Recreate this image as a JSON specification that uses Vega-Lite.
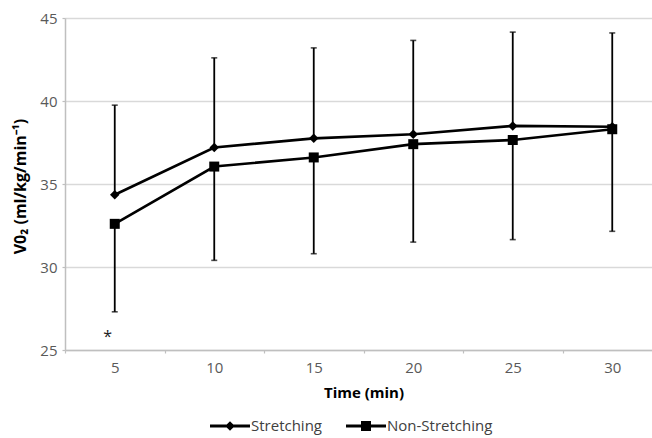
{
  "$schema": "https://vega.github.io/schema/vega-lite/v6.json",
  "width": 597,
  "height": 332,
  "autosize": "none",
  "padding": {"left": 65, "top": 18, "right": 0, "bottom": 88},
  "background": "white",
  "config": {
    "view": {"stroke": null},
    "font": "Open Sans",
    "axis": {
      "labelFont": "Open Sans",
      "labelFontSize": 15,
      "labelColor": "#595959",
      "titleFont": "Open Sans",
      "titleFontSize": 15,
      "titleFontWeight": "bold",
      "titleColor": "#000000",
      "domainColor": "#bfbfbf",
      "domainWidth": 1.5,
      "tickColor": "#bfbfbf",
      "tickWidth": 1.2,
      "tickSize": 3,
      "gridColor": "#d9d9d9",
      "gridWidth": 1.4
    },
    "legend": {"labelFont": "Open Sans", "labelFontSize": 15, "labelColor": "#404040"}
  },
  "datasets": {
    "vo2": [
      {"time": 5, "series": "Stretching", "mean": 34.35, "end": 39.75},
      {"time": 10, "series": "Stretching", "mean": 37.2, "end": 42.6},
      {"time": 15, "series": "Stretching", "mean": 37.75, "end": 43.2},
      {"time": 20, "series": "Stretching", "mean": 38.0, "end": 43.65},
      {"time": 25, "series": "Stretching", "mean": 38.5, "end": 44.15},
      {"time": 30, "series": "Stretching", "mean": 38.45, "end": 44.1},
      {"time": 5, "series": "Non-Stretching", "mean": 32.6, "end": 27.3},
      {"time": 10, "series": "Non-Stretching", "mean": 36.05, "end": 30.4},
      {"time": 15, "series": "Non-Stretching", "mean": 36.6, "end": 30.8},
      {"time": 20, "series": "Non-Stretching", "mean": 37.4, "end": 31.5},
      {"time": 25, "series": "Non-Stretching", "mean": 37.65, "end": 31.65},
      {"time": 30, "series": "Non-Stretching", "mean": 38.3, "end": 32.15}
    ],
    "marks": [
      {"time": 5, "value": 26.0, "label": "*"}
    ]
  },
  "encoding": {
    "x": {
      "field": "time",
      "type": "ordinal",
      "scale": {"type": "band", "paddingInner": 0, "paddingOuter": 0, "domain": [5, 10, 15, 20, 25, 30]},
      "axis": {
        "title": "Time (min)",
        "labelAngle": 0,
        "tickBand": "extent",
        "grid": false,
        "labelPadding": 7,
        "titlePadding": 10
      }
    }
  },
  "layer": [
    {
      "data": {"name": "vo2"},
      "mark": {"type": "rule", "color": "black", "strokeWidth": 1.8},
      "encoding": {
        "y": {
          "field": "mean",
          "type": "quantitative",
          "scale": {"domain": [25, 45], "nice": false, "zero": false},
          "axis": {
            "values": [25, 30, 35, 40, 45],
            "title": "V0₂ (ml/kg/min⁻¹)",
            "titleFontSize": 16,
            "grid": true,
            "labelPadding": 5,
            "titleX": -45,
            "titleY": 168,
            "titleAngle": -90,
            "titleAlign": "center",
            "titleBaseline": "middle"
          }
        },
        "y2": {"field": "end"}
      }
    },
    {
      "data": {"name": "vo2"},
      "mark": {"type": "tick", "color": "black", "size": 6, "thickness": 1.6, "orient": "horizontal"},
      "encoding": {
        "y": {"field": "end", "type": "quantitative"}
      }
    },
    {
      "data": {"name": "vo2"},
      "mark": {"type": "line", "color": "black", "strokeWidth": 2.6},
      "encoding": {
        "y": {"field": "mean", "type": "quantitative"},
        "detail": {"field": "series", "type": "nominal"}
      }
    },
    {
      "data": {"name": "vo2"},
      "mark": {"type": "point", "filled": true, "color": "black", "opacity": 1},
      "encoding": {
        "y": {"field": "mean", "type": "quantitative"},
        "shape": {
          "field": "series",
          "type": "nominal",
          "scale": {"domain": ["Stretching", "Non-Stretching"], "range": ["diamond", "square"]},
          "legend": null
        },
        "size": {
          "field": "series",
          "type": "nominal",
          "scale": {"domain": ["Stretching", "Non-Stretching"], "range": [90, 100]},
          "legend": null
        }
      }
    },
    {
      "data": {"name": "vo2"},
      "mark": {"type": "point", "filled": true, "color": "black", "opacity": 0},
      "encoding": {
        "y": {"field": "mean", "type": "quantitative"},
        "shape": {
          "field": "series",
          "type": "nominal",
          "scale": {
            "domain": ["Stretching", "Non-Stretching"],
            "range": [
              "M-1,-0.075H-0.165L0,-0.24L0.165,-0.075H1V0.075H0.165L0,0.24L-0.165,0.075H-1Z",
              "M-1,-0.075H-0.25V-0.25H0.25V-0.075H1V0.075H0.25V0.25H-0.25V0.075H-1Z"
            ]
          },
          "legend": {
            "title": null,
            "orient": "none",
            "direction": "horizontal",
            "legendX": 145,
            "legendY": 388,
            "symbolSize": 1600,
            "symbolOpacity": 1,
            "symbolFillColor": "black",
            "symbolStrokeWidth": 0,
            "labelOffset": 1,
            "columnPadding": 24
          }
        }
      }
    },
    {
      "data": {"name": "marks"},
      "mark": {"type": "text", "fontSize": 16, "color": "#222222", "dx": -7, "dy": 4, "baseline": "middle"},
      "encoding": {
        "y": {"field": "value", "type": "quantitative"},
        "text": {"field": "label"}
      }
    }
  ],
  "resolve": {"scale": {"shape": "independent", "size": "independent"}}
}
